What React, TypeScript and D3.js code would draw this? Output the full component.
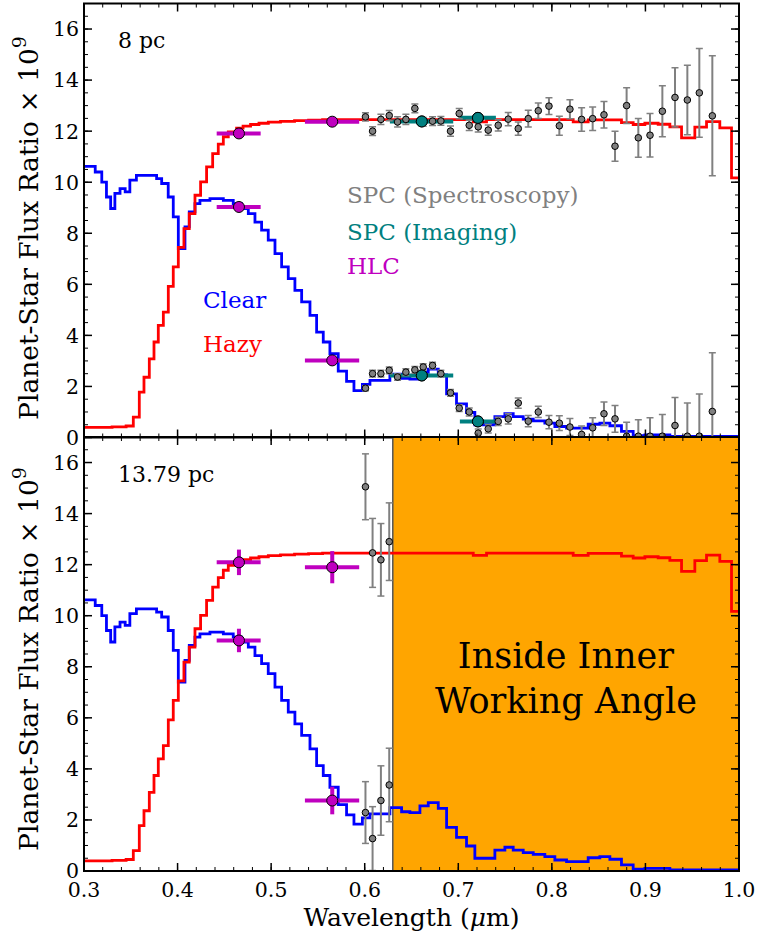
import React from 'react';
import * as d3 from 'd3';

const W = 761;
const H = 940;
const FONT = 'DejaVu Serif';

// ---------- model spectra (bin start wavelength, value) ----------
const clearBinStart = [
  0.300, 0.312, 0.319, 0.324, 0.3285, 0.333, 0.3385, 0.344, 0.349, 0.356, 0.3776, 0.383, 0.390,
  0.3954, 0.4008, 0.4079, 0.4125, 0.4186, 0.4239, 0.4346, 0.4489, 0.4595, 0.4684, 0.4756, 0.4827,
  0.4898, 0.4969, 0.5041, 0.5112, 0.5183, 0.5254, 0.5326, 0.5415, 0.5486, 0.5557, 0.5628, 0.5717,
  0.5806, 0.5885, 0.5975, 0.6056, 0.6269, 0.6394, 0.6483, 0.6590, 0.6679, 0.6786, 0.6875, 0.6981,
  0.7088, 0.7177, 0.7391, 0.7498, 0.7587, 0.7694, 0.7801, 0.7925, 0.8032, 0.8157, 0.8388, 0.8513,
  0.8620, 0.8744, 0.8869, 0.8994, 0.9261,
];
const clearValues = [
  10.62, 10.4, 10.0, 9.42, 8.97, 9.56, 9.75, 9.62, 10.08, 10.27, 10.14, 9.95, 9.42,
  8.64, 7.4, 8.25, 8.84, 9.16, 9.29, 9.36, 9.29, 9.16, 8.97, 8.77, 8.44,
  8.12, 7.73, 7.2, 6.68, 6.22, 5.76, 5.31, 4.78, 4.13, 3.74, 3.28, 2.6,
  2.2, 1.84, 2.08, 2.24, 2.48, 2.32, 2.29, 2.55, 2.68, 2.45, 1.71, 1.32,
  0.98, 0.5, 0.82, 0.93, 0.82, 0.72, 0.65, 0.56, 0.43, 0.37, 0.52, 0.56,
  0.46, 0.24, 0.07, 0.1, 0.04,
];
const hazyBinStart = [
  0.300, 0.330, 0.345, 0.3527, 0.3591, 0.3641, 0.3698, 0.3748, 0.3794, 0.3848, 0.3901, 0.3954,
  0.4008, 0.4068, 0.4125, 0.4186, 0.4246, 0.4310, 0.4375, 0.4435, 0.4489, 0.4542, 0.4631, 0.470,
  0.478, 0.487, 0.497, 0.510, 0.525, 0.540, 0.555, 0.7160, 0.7302, 0.8228, 0.8388, 0.8744, 0.8869,
  0.8994, 0.9136, 0.9261, 0.9386, 0.9528, 0.9653, 0.9795, 0.9920,
];
const hazyValues = [
  0.40, 0.42, 0.45, 0.80, 1.78, 2.36, 3.08, 3.74, 4.39, 4.91, 5.92, 6.68,
  7.45, 8.18, 8.77, 9.49, 10.01, 10.6, 11.12, 11.49, 11.78, 11.97, 12.12, 12.2,
  12.26, 12.31, 12.35, 12.38, 12.41, 12.43, 12.45, 12.36, 12.45, 12.36, 12.44, 12.33, 12.26,
  12.31, 12.27, 12.17, 11.74, 12.16, 12.37, 12.13, 10.17,
];

// ---------- SPC spectroscopy ----------
const spcWavelength = [
  0.6008, 0.6084, 0.6173, 0.6262, 0.6351, 0.6440, 0.6536, 0.6625, 0.6725, 0.6814, 0.6917, 0.7010,
  0.7117, 0.7213, 0.7320, 0.7427, 0.7534, 0.7641, 0.7748, 0.7855, 0.7969, 0.8080, 0.8193, 0.8318,
  0.8436, 0.8557, 0.8675, 0.8799, 0.8924, 0.9049, 0.9181, 0.9316, 0.9448, 0.9576, 0.9715,
];
const spcHazy8pc = [
  12.56, 12.0, 12.46, 12.61, 12.36, 12.46, 12.89, 12.36, 12.39, 12.40, 12.0, 12.69,
  12.23, 12.17, 12.04, 12.23, 12.47, 12.10, 12.49, 12.80, 12.98, 12.21, 12.86, 12.46,
  12.49, 12.64, 11.41, 13.0, 11.74, 11.84, 12.78, 13.32, 13.22, 13.5, 12.6,
];
const spcHazyErr8pc = [
  0.16, 0.17, 0.2, 0.2, 0.2, 0.2, 0.17, 0.17, 0.17, 0.17, 0.2, 0.2,
  0.2, 0.2, 0.2, 0.22, 0.26, 0.26, 0.33, 0.3, 0.33, 0.37, 0.37, 0.46,
  0.46, 0.52, 0.59, 0.7, 0.76, 0.85, 1.0, 1.16, 1.36, 1.74, 2.35,
];
const spcClear8pc = [
  1.93, 2.50, 2.50, 2.63, 2.37, 2.56, 2.65, 2.76, 2.82, 2.50, 1.75, 1.15,
  1.0, 0.17, 0.34, 0.63, 0.73, 1.35, 0.64, 1.0, 0.60, 0.56, 0.41, 0.12,
  0.38, 0.93, 0.73, 0.05, 0.05, 0.05, 0.05, 0.47, 0.05, 0.05, 1.02,
];
const spcClearErr8pc = [
  0.1, 0.13, 0.13, 0.13, 0.13, 0.13, 0.13, 0.13, 0.13, 0.13, 0.13, 0.13,
  0.16, 0.16, 0.16, 0.16, 0.2, 0.2, 0.22, 0.22, 0.26, 0.29, 0.33, 0.33,
  0.39, 0.46, 0.52, 0.55, 0.65, 0.72, 0.85, 1.1, 1.3, 1.65, 2.3,
];
const spcHazy1379pc = [15.05, 12.46, 12.19, 12.9];
const spcHazyErr1379pc = [1.29, 1.35, 1.42, 1.52];
const spcClear1379pc = [2.29, 1.27, 2.76, 3.37];
const spcClearErr1379pc = [1.21, 1.25, 1.36, 1.44];

// ---------- SPC imaging ----------
const imgWavelength = [0.661, 0.721];
const imgBandLo = [0.6269, 0.7017];
const imgBandHi = [0.6946, 0.7402];
const imgHazy8pc = [12.38, 12.52];
const imgClear8pc = [2.43, 0.63];

// ---------- HLC ----------
const hlcWavelength = [0.4656, 0.5653];
const hlcBandLo = [0.4418, 0.5361];
const hlcBandHi = [0.4888, 0.5941];
const hlcHazy8pc = [11.91, 12.37];
const hlcClear8pc = [9.03, 3.02];
const hlcErr8pc = [0.08, 0.08];
const hlcHazy1379pc = [12.09, 11.9];
const hlcHazyErr1379pc = [0.5, 0.63];
const hlcClear1379pc = [9.03, 2.76];
const hlcClearErr1379pc = [0.46, 0.54];

const iwaWavelength = 0.63;

const xTicks = [0.3, 0.4, 0.5, 0.6, 0.7, 0.8, 0.9, 1.0];
const yTicks = [0, 2, 4, 6, 8, 10, 12, 14, 16];

const GRAY = '#808080';
const TEAL = '#008080';
const MAGENTA = '#bf00bf';

const x = d3.scaleLinear().domain([0.3, 1.0]).range([84, 739]);

function stepPath(starts: number[], vals: number[], y: d3.ScaleLinear<number, number>) {
  const pts: [number, number][] = starts.map((s, i) => [s, vals[i]]);
  pts.push([1.0, vals[vals.length - 1]]);
  return d3
    .line<[number, number]>()
    .x((d) => x(d[0]))
    .y((d) => y(d[1]))
    .curve(d3.curveStepAfter)(pts) as string;
}

function ErrPoints({ wl, v, e, y }: { wl: number[]; v: number[]; e: number[]; y: d3.ScaleLinear<number, number> }) {
  return (
    <g>
      {wl.map((w, i) => {
        const cx = x(w);
        const yt = y(v[i] + e[i]);
        const yb = y(v[i] - e[i]);
        return (
          <g key={i}>
            <line x1={cx} x2={cx} y1={yt} y2={yb} stroke={GRAY} strokeWidth={2} />
            <line x1={cx - 3.5} x2={cx + 3.5} y1={yt} y2={yt} stroke={GRAY} strokeWidth={1.5} />
            <line x1={cx - 3.5} x2={cx + 3.5} y1={yb} y2={yb} stroke={GRAY} strokeWidth={1.5} />
            <circle cx={cx} cy={y(v[i])} r={3.3} fill={GRAY} stroke="#000" strokeWidth={1} />
          </g>
        );
      })}
    </g>
  );
}

function BandPoints({
  wl, lo, hi, v, e, y, color,
}: {
  wl: number[]; lo: number[]; hi: number[]; v: number[]; e: number[] | null;
  y: d3.ScaleLinear<number, number>; color: string;
}) {
  return (
    <g>
      {wl.map((w, i) => (
        <g key={i}>
          <line x1={x(lo[i])} x2={x(hi[i])} y1={y(v[i])} y2={y(v[i])} stroke={color} strokeWidth={4} />
          {e ? (
            <line x1={x(w)} x2={x(w)} y1={y(v[i] + e[i])} y2={y(v[i] - e[i])} stroke={color} strokeWidth={4} />
          ) : null}
          <circle cx={x(w)} cy={y(v[i])} r={5.5} fill={color} stroke="#000" strokeWidth={1} />
        </g>
      ))}
    </g>
  );
}

function Frame({ y, top, bottom, labelsX }: { y: d3.ScaleLinear<number, number>; top: number; bottom: number; labelsX: boolean }) {
  const xl = 84, xr = 739;
  const xMinor = d3.range(0, 36).map((i) => 0.3 + i * 0.02);
  const yMinor = d3.range(0, 35).map((i) => i * 0.5);
  return (
    <g>
      {xMinor.map((t, i) => (
        <g key={'xm' + i}>
          <line x1={x(t)} x2={x(t)} y1={bottom} y2={bottom - 4} stroke="#000" strokeWidth={1} />
          <line x1={x(t)} x2={x(t)} y1={top} y2={top + 4} stroke="#000" strokeWidth={1} />
        </g>
      ))}
      {xTicks.map((t, i) => (
        <g key={'xM' + i}>
          <line x1={x(t)} x2={x(t)} y1={bottom} y2={bottom - 8} stroke="#000" strokeWidth={1.5} />
          <line x1={x(t)} x2={x(t)} y1={top} y2={top + 8} stroke="#000" strokeWidth={1.5} />
          {labelsX ? (
            <text x={x(t)} y={bottom + 26} textAnchor="middle" fontFamily={FONT} fontSize={20.5}>
              {t.toFixed(1)}
            </text>
          ) : null}
        </g>
      ))}
      {yMinor.map((t, i) => (
        <g key={'ym' + i}>
          <line x1={xl} x2={xl + 4} y1={y(t)} y2={y(t)} stroke="#000" strokeWidth={1} />
          <line x1={xr} x2={xr - 4} y1={y(t)} y2={y(t)} stroke="#000" strokeWidth={1} />
        </g>
      ))}
      {yTicks.map((t, i) => (
        <g key={'yM' + i}>
          <line x1={xl} x2={xl + 8} y1={y(t)} y2={y(t)} stroke="#000" strokeWidth={1.5} />
          <line x1={xr} x2={xr - 8} y1={y(t)} y2={y(t)} stroke="#000" strokeWidth={1.5} />
          <text x={xl - 5} y={y(t)} dy="0.36em" textAnchor="end" fontFamily={FONT} fontSize={20.5}>
            {t}
          </text>
        </g>
      ))}
      <rect x={xl} y={top} width={xr - xl} height={bottom - top} fill="none" stroke="#000" strokeWidth={2} />
    </g>
  );
}

function YLabel({ cy }: { cy: number }) {
  return (
    <text transform={`translate(38,${cy}) rotate(-90)`} textAnchor="middle" fontFamily={FONT} fontSize={26.5}>
      Planet-Star Flux Ratio {'\u00d7'} 10
      <tspan dy={-12} fontSize={19}>9</tspan>
    </text>
  );
}

export default function App() {
  const yTop = d3.scaleLinear().domain([0, 17]).range([437.5, 3.5]);
  const yBot = d3.scaleLinear().domain([0, 17]).range([871, 437]);
  const xl = 84, xr = 739;
  return (
    <svg width={W} height={H} style={{ position: 'absolute', left: 0, top: 0, background: '#fff' }}>
      <defs>
        <clipPath id="clipTop">
          <rect x={xl} y={3.5} width={xr - xl} height={434} />
        </clipPath>
        <clipPath id="clipBot">
          <rect x={xl} y={437} width={xr - xl} height={434} />
        </clipPath>
      </defs>
      <rect x={0} y={0} width={W} height={H} fill="#fff" />

      {/* top panel */}
      <g clipPath="url(#clipTop)">
        <path d={stepPath(clearBinStart, clearValues, yTop)} fill="none" stroke="#0000ff" strokeWidth={2.8} />
        <path d={stepPath(hazyBinStart, hazyValues, yTop)} fill="none" stroke="#ff0000" strokeWidth={2.8} />
        <BandPoints wl={imgWavelength} lo={imgBandLo} hi={imgBandHi} v={imgHazy8pc} e={null} y={yTop} color={TEAL} />
        <BandPoints wl={imgWavelength} lo={imgBandLo} hi={imgBandHi} v={imgClear8pc} e={null} y={yTop} color={TEAL} />
        <ErrPoints wl={spcWavelength} v={spcHazy8pc} e={spcHazyErr8pc} y={yTop} />
        <ErrPoints wl={spcWavelength} v={spcClear8pc} e={spcClearErr8pc} y={yTop} />
        {imgWavelength.map((w, i) => (
          <g key={'ic' + i}>
            <circle cx={x(w)} cy={yTop(imgHazy8pc[i])} r={5.5} fill={TEAL} stroke="#000" strokeWidth={1} />
            <circle cx={x(w)} cy={yTop(imgClear8pc[i])} r={5.5} fill={TEAL} stroke="#000" strokeWidth={1} />
          </g>
        ))}
        <BandPoints wl={hlcWavelength} lo={hlcBandLo} hi={hlcBandHi} v={hlcHazy8pc} e={hlcErr8pc} y={yTop} color={MAGENTA} />
        <BandPoints wl={hlcWavelength} lo={hlcBandLo} hi={hlcBandHi} v={hlcClear8pc} e={hlcErr8pc} y={yTop} color={MAGENTA} />
      </g>
      <text x={118} y={48} fontFamily={FONT} fontSize={22}>8 pc</text>
      <text x={347} y={203} fontFamily={FONT} fontSize={23} fill={GRAY}>SPC (Spectroscopy)</text>
      <text x={347} y={240} fontFamily={FONT} fontSize={23} fill={TEAL}>SPC (Imaging)</text>
      <text x={347} y={274} fontFamily={FONT} fontSize={23} fill={MAGENTA}>HLC</text>
      <text x={203} y={308} fontFamily={FONT} fontSize={23} fill="#0000ff">Clear</text>
      <text x={203} y={352} fontFamily={FONT} fontSize={23} fill="#ff0000">Hazy</text>
      <Frame y={yTop} top={3.5} bottom={437.5} labelsX={false} />

      {/* bottom panel */}
      <g clipPath="url(#clipBot)">
        <rect x={x(iwaWavelength)} y={437} width={x(1.0) - x(iwaWavelength)} height={434} fill="#ffa500" />
        <line x1={x(iwaWavelength)} x2={x(iwaWavelength)} y1={437} y2={871} stroke="#555" strokeWidth={1.5} />
        <path d={stepPath(clearBinStart, clearValues, yBot)} fill="none" stroke="#0000ff" strokeWidth={2.8} />
        <path d={stepPath(hazyBinStart, hazyValues, yBot)} fill="none" stroke="#ff0000" strokeWidth={2.8} />
        <ErrPoints wl={spcWavelength.slice(0, 4)} v={spcHazy1379pc} e={spcHazyErr1379pc} y={yBot} />
        <ErrPoints wl={spcWavelength.slice(0, 4)} v={spcClear1379pc} e={spcClearErr1379pc} y={yBot} />
        <BandPoints wl={hlcWavelength} lo={hlcBandLo} hi={hlcBandHi} v={hlcHazy1379pc} e={hlcHazyErr1379pc} y={yBot} color={MAGENTA} />
        <BandPoints wl={hlcWavelength} lo={hlcBandLo} hi={hlcBandHi} v={hlcClear1379pc} e={hlcClearErr1379pc} y={yBot} color={MAGENTA} />
      </g>
      <text x={118} y={482} fontFamily={FONT} fontSize={22}>13.79 pc</text>
      <text x={(x(iwaWavelength) + x(1.0)) / 2} y={668} textAnchor="middle" fontFamily={FONT} fontSize={35}>Inside Inner</text>
      <text x={(x(iwaWavelength) + x(1.0)) / 2} y={713} textAnchor="middle" fontFamily={FONT} fontSize={35}>Working Angle</text>
      <Frame y={yBot} top={437} bottom={871} labelsX={true} />

      <YLabel cy={228} />
      <YLabel cy={659} />
      <text x={411.5} y={926} textAnchor="middle" fontFamily={FONT} fontSize={25}>
        Wavelength (<tspan fontStyle="italic">{'\u03bc'}</tspan>m)
      </text>
    </svg>
  );
}
